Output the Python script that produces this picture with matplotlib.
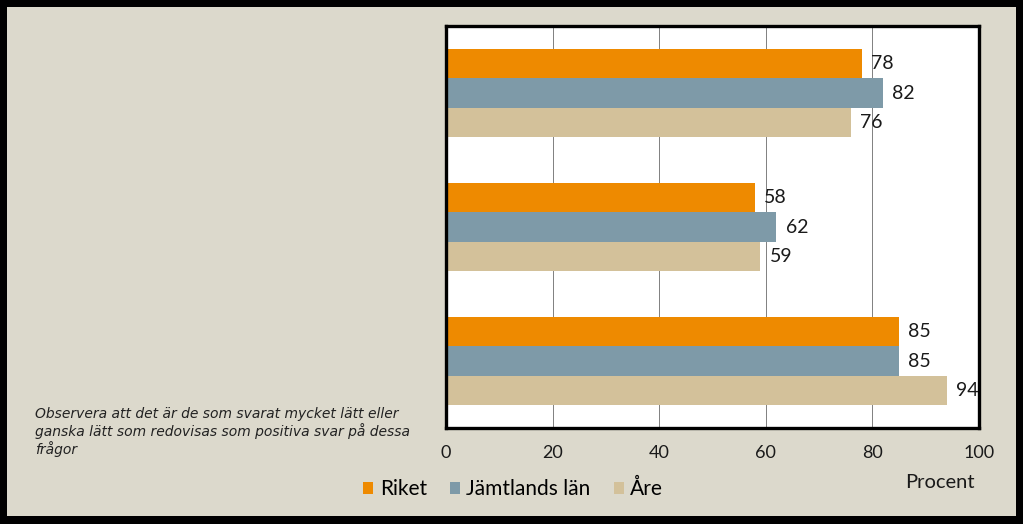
import matplotlib.pyplot as plt
from matplotlib.patches import Rectangle
import numpy as np

grupper = ['Fråga 1', 'Fråga 2', 'Fråga 3']
riket = [78, 58, 85]
jamtland = [82, 62, 85]
are = [76, 59, 94]
serier = ['Riket', 'Jämtlands län', 'Åre']
farger = ['#EE8A00', '#7E9AA8', '#D3C19A']
xticks = [0, 20, 40, 60, 80, 100]

plt.rcParams['font.family'] = ['Lato', 'DejaVu Sans']

fig = plt.figure(figsize=(10.23, 5.24), dpi=100)
fig.patch.set_facecolor('black')
# beige panel inside the black border
fig.patches.append(Rectangle((7/1023, 8/524), (1016-7)/1023, (517-8)/524,
                             transform=fig.transFigure, facecolor='#DCD9CC',
                             edgecolor='none', zorder=-1))

ax = fig.add_axes([446/1023, 1-428/524, (979-446)/1023, (428-26)/524])
ax.set_facecolor('white')

y = np.arange(len(grupper))
h = 0.22
for i, (vals, namn, c) in enumerate(zip([riket, jamtland, are], serier, farger)):
    pos = y + (i - 1) * h
    ax.barh(pos, vals, height=h, color=c, label=namn, zorder=2)
    for p, v in zip(pos, vals):
        ax.text(v + 1.7, p, str(v), va='center', ha='left', fontsize=14,
                color='#1a1a1a', zorder=3)

ax.set_xlim(0, 100)
ax.set_ylim(2.5, -0.5)
ax.set_yticks([])
ax.set_xticks(xticks)
ax.set_xticklabels([str(t) for t in xticks], fontsize=13, color='#1a1a1a')
ax.tick_params(axis='x', length=0, pad=12)
ax.grid(axis='x', color='#808080', linewidth=0.7, zorder=1)
for s in ax.spines.values():
    s.set_linewidth(2.4)
    s.set_color('black')

fig.text(905/1023, 1-482/524, 'Procent', fontsize=14.5, va='center', ha='left',
         color='#1a1a1a')

fig.text(35/1023, 1-407/524,
         'Observera att det är de som svarat mycket lätt eller\n'
         'ganska lätt som redovisas som positiva svar på dessa\n'
         'frågor',
         fontsize=10, style='italic', va='top', ha='left', color='#222222',
         linespacing=1.15, family=['DejaVu Sans'])

leg = fig.legend(loc='center', bbox_to_anchor=(513/1023, 1-489/524), ncol=3,
                 frameon=False, fontsize=15, handlelength=0.5, handleheight=0.5,
                 handletextpad=0.3, columnspacing=1.1)

fig.savefig('out.png', dpi=100, facecolor=fig.get_facecolor())
